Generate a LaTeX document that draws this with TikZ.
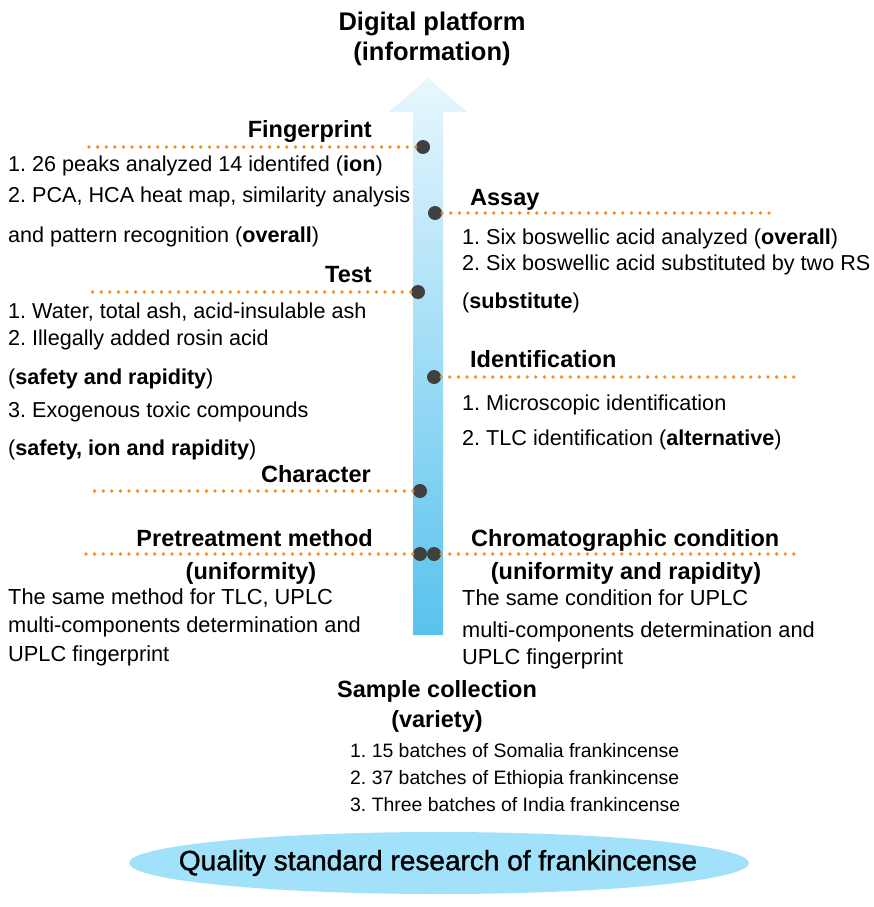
\documentclass[tikz,border=0pt]{standalone}
\usepackage{fontspec}
\setmainfont{Liberation Sans}
\newfontface\mediumface{Liberation Sans}[FakeBold=1.2]
\frenchspacing

\definecolor{dotorange}{HTML}{F39221}
\definecolor{pindark}{HTML}{404040}
\definecolor{shafttop}{HTML}{E8F7FE}
\definecolor{shaftbottom}{HTML}{58C2EE}
\definecolor{baseblue}{HTML}{A2E1FA}

\begin{document}
\begin{tikzpicture}[x=1pt,y=-1pt,
  title/.style={inner sep=0pt, anchor=base, font=\fontsize{25.5}{30}\selectfont\bfseries},
  head/.style={inner sep=0pt, font=\fontsize{23.5}{28}\selectfont\bfseries},
  item/.style={inner sep=0pt, anchor=base west, font=\fontsize{21.6}{25}\selectfont},
  wideitem/.style={inner sep=0pt, anchor=base west, font=\fontsize{21.8}{25}\selectfont},
  sample/.style={inner sep=0pt, anchor=base west, font=\fontsize{19.4}{23}\selectfont},
  pin/.style={circle, fill=pindark, inner sep=0pt, minimum size=14pt},
  leader/.style={dotorange, line width=3.8pt, line cap=round, dash pattern=on 0pt off 8.6pt}]
  \useasboundingbox (0,0) rectangle (874,907);

  % the rising arrow
  \shade[top color=shafttop, bottom color=shaftbottom]
    (428,78) -- (467,112) -- (443,112) -- (443,635) -- (413,635) -- (413,112) -- (389,112) -- cycle;

  % top and bottom
  \node[title] (top1) at (432,31) {Digital platform};
  \node[title] (top2) at (432,61) {(information)};
  \fill[baseblue] (439,863) ellipse [x radius=310, y radius=31];
  \node[inner sep=0pt, font=\fontsize{28}{32}\mediumface] (base) at (438,863) {Quality standard research of frankincense};

  % dots on the arrow
  \node[pin] (fp) at (423,147) {};
  \node[pin] (as) at (435,213) {};
  \node[pin] (te) at (418,292) {};
  \node[pin] (id) at (434,377) {};
  \node[pin] (ch) at (420,491) {};
  \node[pin] (prl) at (420,554) {};
  \node[pin] (prr) at (434,554) {};

  \coordinate (fpend) at (88,147);
  \coordinate (asend) at (772,213);
  \coordinate (teend) at (85,292);
  \coordinate (idend) at (800,377);
  \coordinate (chend) at (88,491);
  \coordinate (prlend) at (85,554);
  \coordinate (prrend) at (800,554);

  % dotted leaders
  \draw[leader] (fp) -- (fpend);
  \draw[leader] (as) -- (asend);
  \draw[leader] (te) -- (teend);
  \draw[leader] (id) -- (idend);
  \draw[leader] (ch) -- (chend);
  \draw[leader] (prl) -- (prlend);
  \draw[leader] (prr) -- (prrend);

  % left side
  \node[head, anchor=base east] (fphead) at (372,137) {Fingerprint};
  \node[item] (fp1) at (8,171) {1. 26 peaks analyzed 14 identifed (\textbf{ion})};
  \node[item] (fp2) at (8,202) {2. PCA, HCA heat map, similarity analysis};
  \node[item] (fp3) at (8,242) {and pattern recognition (\textbf{overall})};

  \node[head, anchor=base east] (tehead) at (372,282) {Test};
  \node[item] (te1) at (8,318) {1. Water, total ash, acid-insulable ash};
  \node[item] (te2) at (8,345) {2. Illegally added rosin acid};
  \node[item] (te3) at (8,384) {(\textbf{safety and rapidity})};
  \node[item] (te4) at (8,417) {3. Exogenous toxic compounds};
  \node[item] (te5) at (8,455) {(\textbf{safety, ion and rapidity})};

  \node[head, anchor=base east] (chhead) at (371,482) {Character};

  \node[head, anchor=base east] (prhead) at (373,546) {Pretreatment method};
  \node[head, anchor=base] (prsub) at (251,579) {(uniformity)};
  \node[wideitem] (pr1) at (8,604) {The same method for TLC, UPLC};
  \node[wideitem] (pr2) at (8,632) {multi-components determination and};
  \node[wideitem] (pr3) at (8,661) {UPLC fingerprint};

  % right side
  \node[head, anchor=base west] (ashead) at (470,205) {Assay};
  \node[item] (as1) at (462,244) {1. Six boswellic acid analyzed (\textbf{overall})};
  \node[item] (as2) at (462,270) {2. Six boswellic acid substituted by two RS};
  \node[item] (as3) at (462,308) {(\textbf{substitute})};

  \node[head, anchor=base west] (idhead) at (470,367) {Identification};
  \node[item] (id1) at (462,410) {1. Microscopic identification};
  \node[item] (id2) at (462,445) {2. TLC identification (\textbf{alternative})};

  \node[head, anchor=base west] (cohead) at (471,546) {Chromatographic condition};
  \node[head, anchor=base] (cosub) at (626,579) {(uniformity and rapidity)};
  \node[wideitem] (co1) at (462,605) {The same condition for UPLC};
  \node[wideitem] (co2) at (462,637) {multi-components determination and};
  \node[wideitem] (co3) at (462,664) {UPLC fingerprint};

  % sample collection
  \node[head, anchor=base] (sahead) at (437,697) {Sample collection};
  \node[head, anchor=base] (sasub) at (437,727) {(variety)};
  \node[sample] (sa1) at (350,757) {1. 15 batches of Somalia frankincense};
  \node[sample] (sa2) at (350,784) {2. 37 batches of Ethiopia frankincense};
  \node[sample] (sa3) at (350,811) {3. Three batches of India frankincense};
\end{tikzpicture}
\end{document}
